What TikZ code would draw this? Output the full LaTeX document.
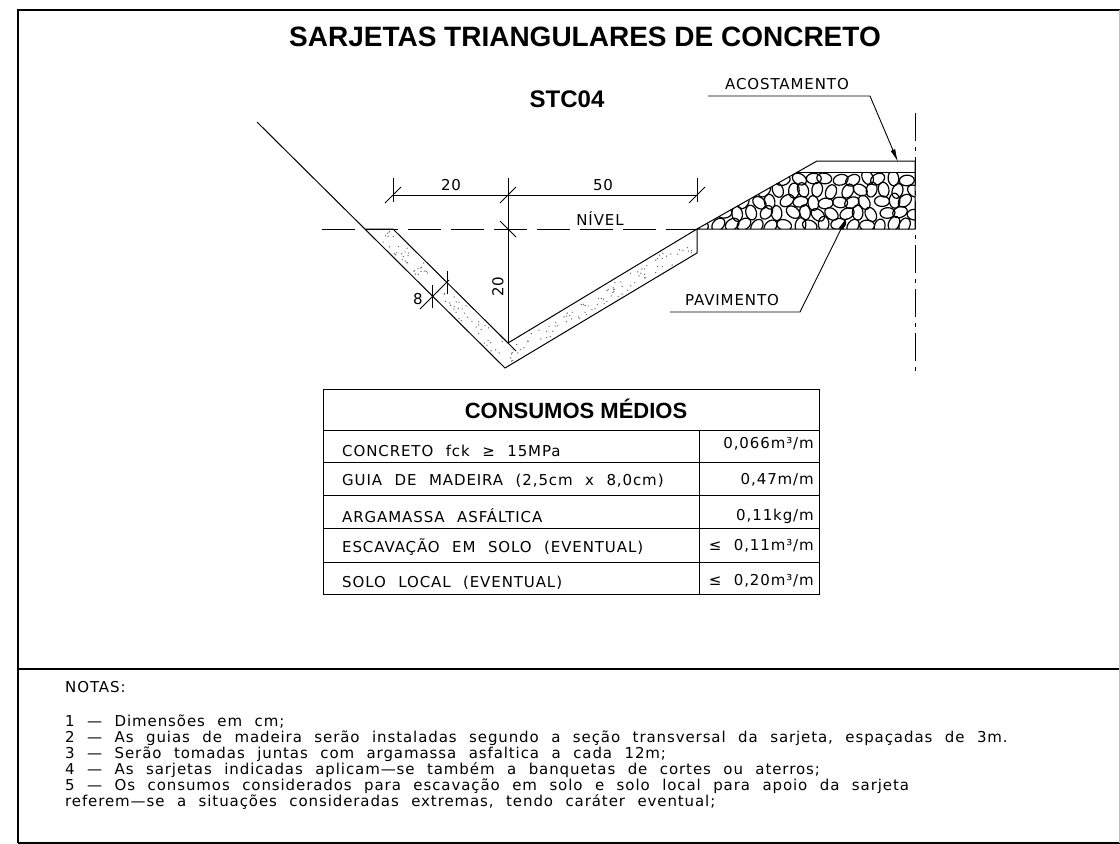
\documentclass[tikz,border=0pt]{standalone}
\usepackage{fontspec}
\setmainfont{Liberation Sans}
\newfontfamily\cadfont{DejaVu Sans}[LetterSpace=6,WordSpace=2.2]
\usetikzlibrary{arrows.meta}
\usetikzlibrary{calc}
\usetikzlibrary{positioning}
\tikzset{frame/.style = {line width=2.5}}
\tikzset{section/.style = {line width=1}}
\tikzset{dimline/.style = {line width=0.8}}
\tikzset{dimtick/.style = {line width=0.9}}
\tikzset{stone/.style = {line width=1.2}}
\tikzset{grit/.style = {fill=black!60}}
\tikzset{leader/.style = {line width=0.9, -{Latex[length=13,width=5]}}}
\tikzset{cad/.style = {font=\cadfont\fontsize{15}{16}\selectfont, inner sep=0}}
\tikzset{note/.style = {font=\cadfont\fontsize{15}{16}\selectfont, inner sep=0, anchor=base west}}
\tikzset{heading/.style = {font=\bfseries\fontsize{#1}{#1}\selectfont, inner sep=0}}

\begin{document}
\begin{tikzpicture}[x=1pt, y=-1pt]
  \useasboundingbox (0,0) rectangle (1120,844);

  % sheet
  \draw [frame] (18,843) -- (18,10) -- (1120,10);
  \draw [frame] (18,843) -- (1120,843);
  \draw [frame] (18,669) -- (1120,669);
  \draw [black!25, line width=1] (1119,10) -- (1119,843);

  \node [heading=28] (title) at (585,37) {SARJETAS TRIANGULARES DE CONCRETO};
  \node [heading=24] (stc) at (567,99) {STC04};

  % section points
  \coordinate (oTop) at (257,122);
  \coordinate (oL) at (365,229);
  \coordinate (iL) at (393,229);
  \coordinate (iV) at (508,343);
  \coordinate (oV) at (505,368);
  \coordinate (iR) at (697,229);
  \coordinate (oR) at (697,253);
  \coordinate (pMid) at (797,172);
  \coordinate (pTop) at (817,161);
  \coordinate (pTopE) at (915,161);
  \coordinate (pMidE) at (915,172);
  \coordinate (pBot) at (915,229);
  \coordinate (lvlL) at (322,229);

  % concrete grit
  \pgfmathsetseed{11}
  \foreach \k in {1,...,70} {
    \pgfmathsetmacro\t{0.02+0.96*rnd}
    \pgfmathsetmacro\s{0.12+0.76*rnd}
    \fill [grit] ($($(oL)!\t!(oV)$)!\s!($(iL)!\t!(iV)$)$) circle [radius=0.7];
  }
  \foreach \k in {1,...,90} {
    \pgfmathsetmacro\t{0.02+0.96*rnd}
    \pgfmathsetmacro\s{0.12+0.76*rnd}
    \fill [grit] ($($(oV)!\t!(oR)$)!\s!($(iV)!\t!(iR)$)$) circle [radius=0.7];
  }

  % pavement stones
  \begin{scope}
    \clip (iR) -- (pMid) -- (pMidE) -- (pBot) -- cycle;
    \foreach \r in {0,...,4} {
      \foreach \c in {0,...,15} {
        \pgfmathsetmacro\sx{704+\c*13.5+mod(\r,2)*6.5+2.5*rand}
        \pgfmathsetmacro\sy{179+\r*11.5+1.5*rand}
        \pgfmathsetmacro\sa{90*rand}
        \draw [stone] (\sx,\sy) ellipse [x radius=7.5, y radius=5.3, rotate=\sa];
      }
    }
  \end{scope}

  % section
  \draw [section] (oTop) -- (oV) -- (oR) -- (iR) -- (iV) -- (iL) -- (oL);
  \draw [section, dash pattern=on 33pt off 10pt] (lvlL) -- (iR);
  \draw [section] (iR) -- (pTop) -- (pTopE) -- (pBot) -- (iR);
  \draw [section] (pMid) -- (pMidE);
  \draw [section, dash pattern=on 28pt off 6pt on 4pt off 6pt] (915,113) -- (915,375);

  % dimensions
  \coordinate (d20a) at (393,195);
  \coordinate (d20b) at (508,195);
  \coordinate (d50b) at (697,195);
  \draw [dimline] (393,178) -- (393,202);
  \draw [dimline] (697,178) -- (697,202);
  \draw [dimline] (508,178) -- (iV);
  \draw [dimline] (d20a) -- (d50b);
  \foreach \p in {d20a, d20b, d50b}
    \draw [dimtick] ($(\p)+(-8,8)$) -- ($(\p)+(8,-8)$);
  \coordinate (dLvl) at (508,229);
  \foreach \p in {dLvl, iV}
    \draw [dimtick] ($(\p)+(-8,-8)$) -- ($(\p)+(8,8)$);
  \node [cad] (l20) at (451,185) {20};
  \node [cad] (l50) at (603,185) {50};
  \node [cad, rotate=90] (l20v) at (498,287) {20};
  \node [cad] (nivel) at (600,219) {NÍVEL};

  \coordinate (t8a) at (432,297);
  \coordinate (t8b) at (447,283);
  \draw [dimline] (420,309) -- (449,280);
  \draw [dimtick] ($(t8a)+(0,-12)$) -- ($(t8a)+(0,11)$);
  \draw [dimtick] ($(t8b)+(0,-12)$) -- ($(t8b)+(0,11)$);
  \node [cad] (l8) at (418,299) {8};

  % leaders
  \node [cad] (acost) at (787,84) {ACOSTAMENTO};
  \coordinate (acostL) at (708,96);
  \coordinate (acostR) at (870,96);
  \coordinate (acostTip) at (898,162);
  \draw [leader] (acostL) -- (acostR) -- (acostTip);
  \node [cad] (pav) at (732,300) {PAVIMENTO};
  \coordinate (pavL) at (670,312);
  \coordinate (pavR) at (800,312);
  \coordinate (pavTip) at (847,217);
  \draw [leader] (pavL) -- (pavR) -- (pavTip);

  % table
  \draw [section] (323,389) rectangle (819,594);
  \foreach \y in {430,462,495,528,562}
    \draw [section] (323,\y) -- (819,\y);
  \draw [section] (699,430) -- (699,594);
  \node [heading=22] (cons) at (576,409) {CONSUMOS MÉDIOS};
  \node [cad, anchor=base west] (r1) at (342,456) {CONCRETO fck ≥ 15MPa};
  \node [cad, anchor=base west] (r2) at (342,485) {GUIA DE MADEIRA (2,5cm x 8,0cm)};
  \node [cad, anchor=base west] (r3) at (342,522) {ARGAMASSA ASFÁLTICA};
  \node [cad, anchor=base west] (r4) at (342,552) {ESCAVAÇÃO EM SOLO (EVENTUAL)};
  \node [cad, anchor=base west] (r5) at (342,587) {SOLO LOCAL (EVENTUAL)};
  \node [cad, anchor=base east] (v1) at (814,448) {0,066m³/m};
  \node [cad, anchor=base east] (v2) at (814,484) {0,47m/m};
  \node [cad, anchor=base east] (v3) at (814,520) {0,11kg/m};
  \node [cad, anchor=base east] (v4) at (814,550) {≤ 0,11m³/m};
  \node [cad, anchor=base east] (v5) at (814,585) {≤ 0,20m³/m};

  % notes
  \node [note] (notas) at (65,692) {NOTAS:};
  \node [note] (n1) at (65,726) {1 — Dimensões em cm;};
  \node [note] (n2) at (65,742) {2 — As guias de madeira serão instaladas segundo a seção transversal da sarjeta, espaçadas de 3m.};
  \node [note] (n3) at (65,758) {3 — Serão tomadas juntas com argamassa asfaltica a cada 12m;};
  \node [note] (n4) at (65,774) {4 — As sarjetas indicadas aplicam—se também a banquetas de cortes ou aterros;};
  \node [note] (n5) at (65,790) {5 — Os consumos considerados para escavação em solo e solo local para apoio da sarjeta};
  \node [note] (n6) at (65,806) {referem—se a situações consideradas extremas, tendo caráter eventual;};
\end{tikzpicture}
\end{document}
